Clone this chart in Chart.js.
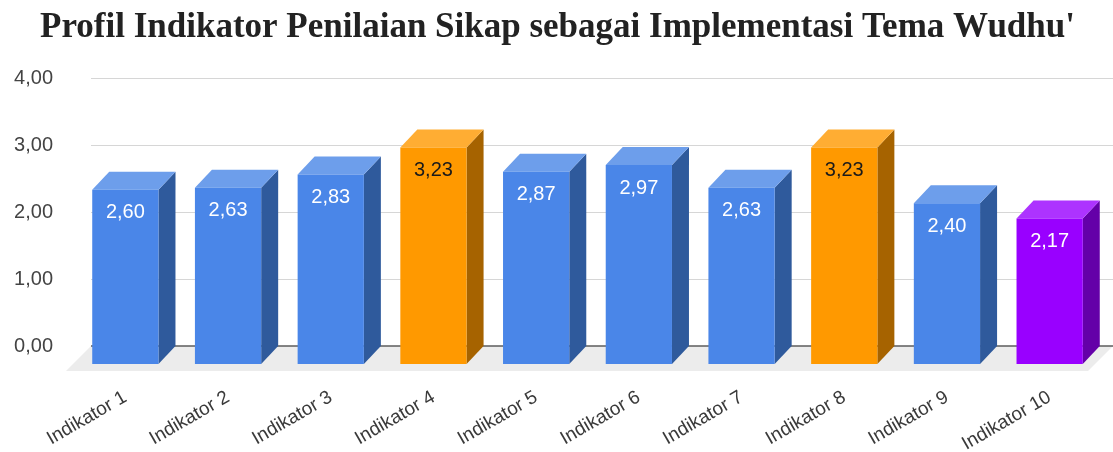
<!DOCTYPE html>
<html>
<head>
<meta charset="utf-8">
<script src="https://cdn.jsdelivr.net/npm/chart.js@4/dist/chart.umd.min.js"></script>
<style>
html, body { margin: 0; padding: 0; background: #fff; }
#wrap { width: 1113px; height: 452px; }
</style>
</head>
<body>
<div id="wrap"><canvas id="chart"></canvas></div>
<script>
const categories = [
    "Indikator 1", "Indikator 2", "Indikator 3", "Indikator 4", "Indikator 5",
    "Indikator 6", "Indikator 7", "Indikator 8", "Indikator 9", "Indikator 10"
];
const scores = [2.60, 2.63, 2.83, 3.23, 2.87, 2.97, 2.63, 3.23, 2.40, 2.17];
const yTicks = [0, 1, 2, 3, 4];

// which colour each bar uses
const barTheme = ["blue", "blue", "blue", "orange", "blue", "blue", "blue", "orange", "blue", "purple"];

const palette = {
    blue:   { front: "#4a86e8", top: "#6d9eeb", side: "#2f5a9c", text: "#ffffff" },
    orange: { front: "#ff9900", top: "#ffad33", side: "#a66300", text: "#1a1a1a" },
    purple: { front: "#9900ff", top: "#ad33ff", side: "#6400a8", text: "#ffffff" }
};

// fake 3d depth, in px
const depthX = 17;
const depthY = 18;
const floorDepth = 25;

const fmt = v => Number(v).toFixed(2).replace(".", ",");

const box3d = {
    id: "box3d",
    beforeDatasetsDraw(chart) {
        const { ctx, chartArea, scales: { y } } = chart;
        const y0 = y.getPixelForValue(0);
        const backLeft = chartArea.left + depthX;
        const right = chart.width;

        ctx.save();

        // floor
        ctx.fillStyle = "#ececec";
        ctx.beginPath();
        ctx.moveTo(backLeft, y0);
        ctx.lineTo(right, y0);
        ctx.lineTo(right - floorDepth, y0 + floorDepth);
        ctx.lineTo(backLeft - floorDepth, y0 + floorDepth);
        ctx.closePath();
        ctx.fill();

        // grid lines on the back wall
        ctx.strokeStyle = "#d6d6d6";
        ctx.lineWidth = 1;
        yTicks.forEach(t => {
            if (t === 0) return;
            const py = Math.round(y.getPixelForValue(t)) + 0.5;
            ctx.beginPath();
            ctx.moveTo(backLeft, py);
            ctx.lineTo(right, py);
            ctx.stroke();
        });

        ctx.strokeStyle = "#5c5c5c";
        ctx.lineWidth = 1.5;
        ctx.beginPath();
        ctx.moveTo(backLeft, y0);
        ctx.lineTo(right, y0);
        ctx.stroke();

        // side + top faces
        const meta = chart.getDatasetMeta(0);
        meta.data.forEach((bar, i) => {
            const p = palette[barTheme[i]];
            const xL = bar.x - bar.width / 2;
            const xR = bar.x + bar.width / 2;
            const yT = bar.y + depthY;
            const yB = bar.base + depthY;

            ctx.fillStyle = p.side;
            ctx.beginPath();
            ctx.moveTo(xR, yT);
            ctx.lineTo(xR + depthX, yT - depthY);
            ctx.lineTo(xR + depthX, yB - depthY);
            ctx.lineTo(xR, yB);
            ctx.closePath();
            ctx.fill();

            ctx.fillStyle = p.top;
            ctx.beginPath();
            ctx.moveTo(xL, yT);
            ctx.lineTo(xL + depthX, yT - depthY);
            ctx.lineTo(xR + depthX, yT - depthY);
            ctx.lineTo(xR, yT);
            ctx.closePath();
            ctx.fill();
        });

        ctx.restore();
    },
    beforeDatasetDraw(chart) {
        chart.ctx.save();
        chart.ctx.translate(0, depthY);
    },
    afterDatasetDraw(chart) {
        chart.ctx.restore();
    },
    afterDatasetsDraw(chart) {
        const { ctx } = chart;
        const meta = chart.getDatasetMeta(0);
        ctx.save();
        ctx.font = "20px 'Liberation Sans', Arial, sans-serif";
        ctx.textAlign = "center";
        ctx.textBaseline = "middle";
        meta.data.forEach((bar, i) => {
            ctx.fillStyle = palette[barTheme[i]].text;
            ctx.fillText(fmt(scores[i]), bar.x, bar.y + depthY + 23);
        });
        ctx.restore();
    }
};

const ctx = document.getElementById("chart");

new Chart(ctx, {
    type: "bar",
    data: {
        labels: categories,
        datasets: [{
            data: scores,
            backgroundColor: barTheme.map(k => palette[k].front),
            borderWidth: 0,
            barPercentage: 0.645,
            categoryPercentage: 1,
            clip: false
        }]
    },
    options: {
        responsive: true,
        maintainAspectRatio: false,
        animation: false,
        layout: {
            padding: { left: 14, right: 12, top: 0, bottom: 0 }
        },
        plugins: {
            legend: { display: false },
            tooltip: { enabled: false },
            title: {
                display: true,
                text: "Profil Indikator Penilaian Sikap sebagai Implementasi Tema Wudhu'",
                color: "#222222",
                font: { family: "'Liberation Serif', serif", size: 35, weight: "bold" },
                padding: { top: 7, bottom: 29 }
            }
        },
        scales: {
            x: {
                grid: { display: false, drawTicks: false },
                border: { display: false },
                ticks: {
                    color: "#3a3a3a",
                    font: { family: "'Liberation Sans', Arial, sans-serif", size: 19 },
                    minRotation: 30,
                    maxRotation: 30,
                    padding: 40
                },
                afterFit(scale) {
                    // keep the plot where the reference has it
                    scale.height = 106;
                    scale.paddingLeft = 0;
                    scale.paddingRight = 0;
                }
            },
            y: {
                min: yTicks[0],
                max: yTicks[yTicks.length - 1],
                grid: { display: false, drawTicks: false },
                border: { display: false },
                ticks: {
                    stepSize: 1,
                    padding: 21,
                    color: "#444444",
                    font: { family: "'Liberation Sans', Arial, sans-serif", size: 20 },
                    callback: v => fmt(v)
                },
                afterFit(scale) {
                    scale.width = 60;
                }
            }
        }
    },
    plugins: [box3d]
});
</script>
</body>
</html>
